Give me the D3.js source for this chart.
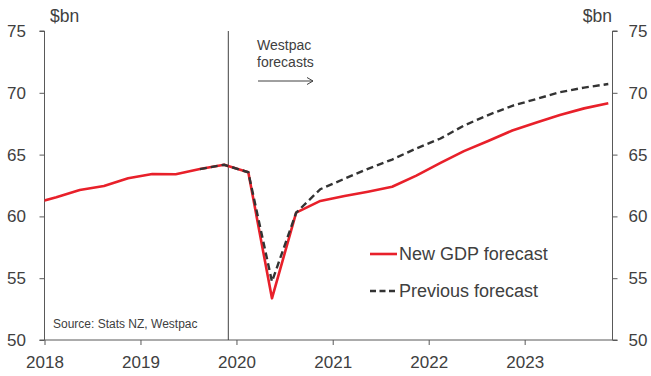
<!DOCTYPE html>
<html><head><meta charset="utf-8">
<script src="https://cdn.jsdelivr.net/npm/d3@7"></script>
<style>
html,body{margin:0;padding:0;background:#fff;}
svg{display:block;font-family:"Liberation Sans",Arial,sans-serif;}
</style></head>
<body>
<svg id="chart" width="651" height="376"></svg>
<script>
// ---- data ----
const quarters = ["2017-11-15","2018-02-15","2018-05-15","2018-08-15","2018-11-15",
  "2019-02-15","2019-05-15","2019-08-15","2019-11-15","2020-02-15","2020-05-15",
  "2020-08-15","2020-11-15","2021-02-15","2021-05-15","2021-08-15","2021-11-15",
  "2022-02-15","2022-05-15","2022-08-15","2022-11-15","2023-02-15","2023-05-15",
  "2023-08-15","2023-11-15"];
const newGDP = [61.0,61.55,62.14,62.46,63.08,63.43,63.41,63.83,64.18,63.57,53.37,
  60.3,61.25,61.65,62.0,62.4,63.3,64.33,65.28,66.1,66.95,67.6,68.2,68.74,69.15];
const previousForecast = [null,null,null,null,null,null,null,63.83,64.18,63.57,54.72,
  60.3,62.2,63.05,63.85,64.6,65.5,66.3,67.35,68.2,68.95,69.5,70.05,70.42,70.71];
const yTicks = [50,55,60,65,70,75];
const xTickYears = [2018,2019,2020,2021,2022,2023];
const seriesNames = ["New GDP forecast","Previous forecast"];
const forecastStart = "2019-12-01";

// ---- layout ----
const svg = d3.select("#chart");
const mLeft = 44.5, mRight = 612.5, mTop = 31, mBottom = 340;
const axisColor = "#595959", textColor = "#404040";
const x = d3.scaleUtc().domain([new Date("2018-01-01"), new Date("2023-12-01")]).range([mLeft, mRight]);
const y = d3.scaleLinear().domain([50,75]).range([mBottom, mTop]);

svg.append("defs").append("clipPath").attr("id","plotclip")
  .append("rect").attr("x",mLeft).attr("y",0).attr("width",mRight-mLeft).attr("height",376);

// axes
const yL = svg.append("g").attr("transform",`translate(${mLeft},0)`)
  .call(d3.axisLeft(y).tickValues(yTicks).tickSize(5).tickPadding(13.5).tickFormat(d3.format("d")));
const yR = svg.append("g").attr("transform",`translate(${mRight},0)`)
  .call(d3.axisRight(y).tickValues(yTicks).tickSize(5).tickPadding(11).tickFormat(d3.format("d")));
const xA = svg.append("g").attr("transform",`translate(0,${mBottom})`)
  .call(d3.axisBottom(x).tickValues(xTickYears.map(v=>new Date(`${v}-01-01`)))
    .tickSize(5).tickPadding(8).tickFormat(d3.utcFormat("%Y")));
[yL,yR,xA].forEach(g=>{
  g.select(".domain").attr("stroke",axisColor).attr("stroke-width",1);
  g.selectAll(".tick line").attr("stroke",axisColor);
  g.selectAll(".tick text").attr("fill",textColor).attr("font-size","17px")
    .attr("font-family","'Liberation Sans',Arial,sans-serif");
});
yL.select(".domain").attr("d",`M-5,${mTop}H0V${mBottom}H-5`);
yR.select(".domain").attr("d",`M5,${mTop}H0V${mBottom}H5`);
xA.select(".domain").attr("d",`M${mLeft},0H${mRight}`);
xA.selectAll(".tick text").attr("dy","0.91em");

// unit labels
svg.append("text").attr("x",50).attr("y",22).attr("fill",textColor).attr("font-size","17.5px").text("$bn");
svg.append("text").attr("x",612).attr("y",22).attr("text-anchor","end").attr("fill",textColor).attr("font-size","17.5px").text("$bn");

// forecast divider
svg.append("line").attr("x1",x(new Date(forecastStart))).attr("x2",x(new Date(forecastStart)))
  .attr("y1",mTop).attr("y2",mBottom).attr("stroke",textColor).attr("stroke-width",1);
svg.append("text").attr("x",257).attr("y",50).attr("fill",textColor).attr("font-size","14px").text("Westpac");
svg.append("text").attr("x",257).attr("y",67).attr("fill",textColor).attr("font-size","14px").text("forecasts");
svg.append("line").attr("x1",258).attr("x2",313).attr("y1",81).attr("y2",81).attr("stroke",textColor).attr("stroke-width",1);
svg.append("path").attr("d","M307,77.5L313,81L307,84.5").attr("fill","none").attr("stroke",textColor).attr("stroke-width",1);

// source
svg.append("text").attr("x",53).attr("y",328).attr("fill",textColor).attr("font-size","12px").text("Source: Stats NZ, Westpac");

// lines
const rows = quarters.map((q,i)=>({d:new Date(q), a:newGDP[i], b:previousForecast[i]}));
const plot = svg.append("g").attr("clip-path","url(#plotclip)");
plot.append("path").datum(rows)
  .attr("d", d3.line().x(r=>x(r.d)).y(r=>y(r.a)))
  .attr("fill","none").attr("stroke","#E8202A").attr("stroke-width",2.6).attr("stroke-linejoin","round");
plot.append("path").datum(rows.filter(r=>r.b!=null))
  .attr("d", d3.line().x(r=>x(r.d)).y(r=>y(r.b)))
  .attr("fill","none").attr("stroke","#333333").attr("stroke-width",2.4).attr("stroke-dasharray","7,4");

// legend
const lg = svg.append("g");
lg.append("line").attr("x1",370).attr("x2",397).attr("y1",254).attr("y2",254).attr("stroke","#E8202A").attr("stroke-width",2.6);
lg.append("text").attr("x",399).attr("y",260).attr("fill",textColor).attr("font-size","18px").text(seriesNames[0]);
lg.append("line").attr("x1",370).attr("x2",397).attr("y1",291).attr("y2",291).attr("stroke","#333333").attr("stroke-width",2.4).attr("stroke-dasharray","6,3.5");
lg.append("text").attr("x",399).attr("y",297).attr("fill",textColor).attr("font-size","18px").text(seriesNames[1]);
</script>
</body></html>
